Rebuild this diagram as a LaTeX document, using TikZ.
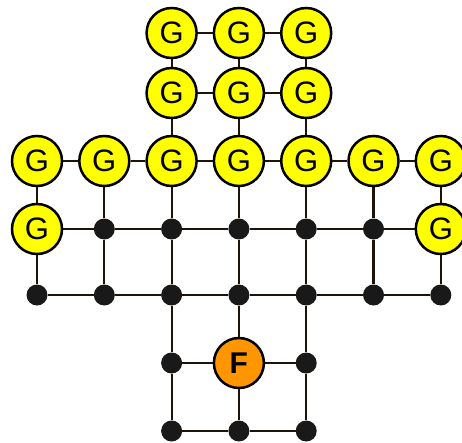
\documentclass[tikz,border=0pt]{standalone}
\usepackage{fontspec}
\setmainfont{Liberation Sans}
\colorlet{node edge}{black}
\colorlet{grid line}{black!85!brown}
\definecolor{goal fill}{RGB}{255,255,0}
\definecolor{fire fill}{RGB}{255,150,0}
\def\colx#1{{37+67.3*(#1-1)}}
\tikzset{
  goal/.style={circle, fill=goal fill, draw=node edge, line width=2.5pt,
    minimum size=50pt, inner sep=0pt, font=\fontsize{31}{31}\selectfont},
  fire/.style={goal, fill=fire fill, font=\fontsize{30}{30}\selectfont\bfseries},
  junction/.style={circle, fill=black!90, minimum size=21pt, inner sep=0pt}
  }
\tikzstyle{edge} = [draw, line width=2.2pt, grid line]

\begin{document}
\begin{tikzpicture}[x=1pt, y=-1pt]
  \useasboundingbox (0,0) rectangle (462,442);

  % top block of goals
  \foreach \r/\y in {1/33, 2/93} {
    \foreach \c in {3,4,5} {
      \node[goal] (n-\r-\c) at (\colx{\c}, \y) {G};
    }
  }
  \foreach \c in {1,...,7} {
    \node[goal] (n-3-\c) at (\colx{\c}, 161) {G};
  }
  \foreach \c/\kind/\txt in {1/goal/G, 2/junction/, 3/junction/, 4/junction/,
                             5/junction/, 6/junction/, 7/goal/G} {
    \node[\kind] (n-4-\c) at (\colx{\c}, 229) {\txt};
  }
  \foreach \c in {1,...,7} {
    \node[junction] (n-5-\c) at (\colx{\c}, 295) {};
  }
  \foreach \c/\kind/\txt in {3/junction/, 4/fire/F, 5/junction/} {
    \node[\kind] (n-6-\c) at (\colx{\c}, 363) {\txt};
  }
  \foreach \c in {3,4,5} {
    \node[junction] (n-7-\c) at (\colx{\c}, 431) {};
  }

  % horizontal edges
  \foreach \r in {1,2,6,7} {
    \path[edge] (n-\r-3) -- (n-\r-4);
    \path[edge] (n-\r-4) -- (n-\r-5);
  }
  \foreach \r in {3,4,5} {
    \foreach \c [evaluate=\c as \d using int(\c+1)] in {1,...,6} {
      \path[edge] (n-\r-\c) -- (n-\r-\d);
    }
  }

  % vertical edges
  \foreach \r/\s in {1/2, 2/3, 5/6, 6/7} {
    \foreach \c in {3,4,5} {
      \path[edge] (n-\r-\c) -- (n-\s-\c);
    }
  }
  \foreach \r/\s in {3/4, 4/5} {
    \foreach \c in {1,...,7} {
      \path[edge] (n-\r-\c) -- (n-\s-\c);
    }
  }
\end{tikzpicture}
\end{document}
